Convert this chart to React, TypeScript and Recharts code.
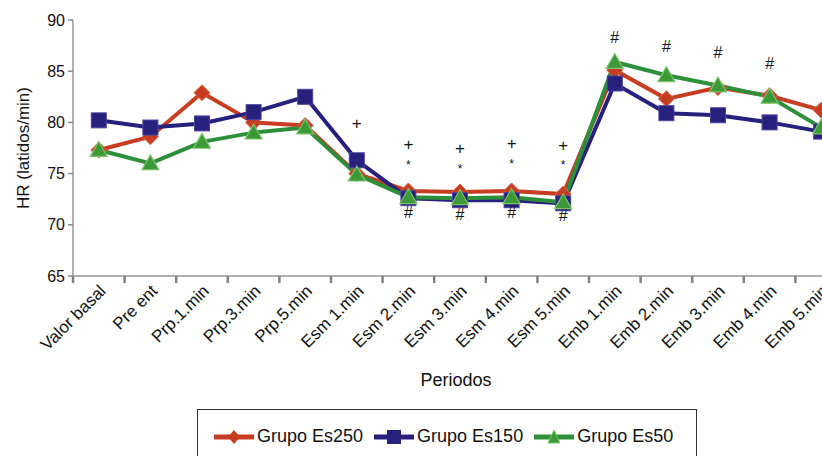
import { LineChart, Line, XAxis, YAxis } from "recharts";

const categorias = [
  "Valor basal", "Pre ent", "Prp.1.min", "Prp.3.min", "Prp.5.min",
  "Esm 1.min", "Esm 2.min", "Esm 3.min", "Esm 4.min", "Esm 5.min",
  "Emb 1.min", "Emb 2.min", "Emb 3.min", "Emb 4.min", "Emb 5.min",
];

const es250 = [77.3, 78.6, 82.9, 80.0, 79.7, 75.0, 73.3, 73.2, 73.3, 73.0, 85.1, 82.3, 83.4, 82.6, 81.2];
const es150 = [80.2, 79.5, 79.9, 81.0, 82.5, 76.3, 72.6, 72.4, 72.4, 72.1, 83.8, 80.9, 80.7, 80.0, 79.1];
const es50 = [77.3, 76.0, 78.1, 79.0, 79.5, 74.9, 72.7, 72.6, 72.7, 72.2, 85.9, 84.6, 83.6, 82.5, 79.5];

// marcas de significación (posición en el eje Y)
const marcaMas = [null, null, null, null, null, 79.9, 77.8, 77.5, 77.9, 77.7, null, null, null, null, null];
const marcaAst = [null, null, null, null, null, null, 76.0, 75.6, 76.1, 76.0, null, null, null, null, null];
const marcaAlm = [null, null, null, null, null, null, 71.2, 71.0, 71.2, 70.9, 88.3, 87.4, 86.8, 85.8, null];

const ticksY = [65, 70, 75, 80, 85, 90];

const ROJO = "#c63d22";
const AZUL = "#27207c";
const VERDE = "#2e8f3a";
const FUENTE = "'Liberation Sans', Arial, sans-serif";

const datos = categorias.map((periodo, i) => ({
  periodo,
  es250: es250[i],
  es150: es150[i],
  es50: es50[i],
  mas: marcaMas[i],
  ast: marcaAst[i],
  alm: marcaAlm[i],
}));

function Rombo(p: any) {
  const { cx, cy, index } = p;
  if (cx == null || cy == null) return <g key={`r-${index}`} />;
  const s = 8;
  return (
    <polygon key={`r-${index}`} points={`${cx},${cy - s} ${cx + s},${cy} ${cx},${cy + s} ${cx - s},${cy}`}
      fill={ROJO} stroke="#d9654d" strokeWidth={1} />
  );
}

function Cuadro(p: any) {
  const { cx, cy, index } = p;
  if (cx == null || cy == null) return <g key={`c-${index}`} />;
  const s = 7.5;
  return <rect key={`c-${index}`} x={cx - s} y={cy - s} width={2 * s} height={2 * s} fill={AZUL} stroke="#4a43a0" strokeWidth={1} />;
}

function Triangulo(p: any) {
  const { cx, cy, index } = p;
  if (cx == null || cy == null) return <g key={`t-${index}`} />;
  const s = 8.5;
  return (
    <polygon key={`t-${index}`} points={`${cx},${cy - s} ${cx + s},${cy + s * 0.75} ${cx - s},${cy + s * 0.75}`}
      fill="#3b9a37" stroke="#7cc46a" strokeWidth={1.2} />
  );
}

const marca = (simbolo: string, tam: number, dy: number) => (p: any) => {
  const { cx, cy, index, value } = p;
  if (cx == null || cy == null || value == null) return <g key={`${simbolo}-${index}`} />;
  return (
    <text key={`${simbolo}-${index}`} x={cx} y={cy + dy} textAnchor="middle" dominantBaseline="central"
      fontSize={tam} fontFamily={FUENTE} fill="#111">
      {simbolo}
    </text>
  );
};

// etiqueta girada + marca de división entre categorías
function TickPeriodo(p: any) {
  const { x, y, payload, width, visibleTicksCount } = p;
  const banda = width && visibleTicksCount ? width / visibleTicksCount : 51.6;
  const lim = x - banda / 2;
  const ax = x + 8;
  const ay = y + 16;
  return (
    <g>
      <path d={`M${lim},${y}V${y + 7}`} stroke="#808080" strokeWidth={2.5} fill="none" />
      <text x={ax} y={ay} transform={`rotate(-45 ${ax} ${ay})`} textAnchor="end"
        fontSize={17} fontFamily={FUENTE} fill="#111">
        {payload.value}
      </text>
    </g>
  );
}

function IconoLeyenda({ color, forma }: { color: string; forma: "rombo" | "cuadro" | "triangulo" }) {
  return (
    <svg width={40} height={16} style={{ display: "block" }}>
      <line x1={0} x2={40} y1={8} y2={8} stroke={color} strokeWidth={5} />
      {forma === "rombo" && <polygon points="20,1 26,8 20,15 14,8" fill={color} />}
      {forma === "cuadro" && <rect x={13} y={1} width={14} height={14} fill={color} />}
      {forma === "triangulo" && <polygon points="20,1 26,14 14,14" fill="#3b9a37" stroke="#7cc46a" />}
    </svg>
  );
}

const series = [
  { nombre: "Grupo Es250", color: ROJO, forma: "rombo" as const },
  { nombre: "Grupo Es150", color: AZUL, forma: "cuadro" as const },
  { nombre: "Grupo Es50", color: VERDE, forma: "triangulo" as const },
];

export default function App() {
  return (
    <div style={{ position: "absolute", left: 0, top: 0, width: 822, height: 456, overflow: "hidden", background: "#fff" }}>
      <LineChart width={880} height={456} data={datos} margin={{ top: 20, right: 33, left: 0, bottom: 0 }}>
        <XAxis
          dataKey="periodo"
          scale="band"
          interval={0}
          height={180}
          tickLine={false}
          tickSize={0}
          tickMargin={0}
          axisLine={{ stroke: "#b0b0b0", strokeWidth: 2 }}
          tick={<TickPeriodo />}
          label={{
            content: (p: any) => {
              const vb = p.viewBox;
              return (
                <text x={vb.x + vb.width / 2 - 4} y={vb.y + 104} textAnchor="middle" dominantBaseline="central"
                  fontSize={18} fontFamily={FUENTE} fill="#111">
                  Periodos
                </text>
              );
            },
          }}
        />
        <YAxis
          width={73}
          domain={[65, 90]}
          ticks={ticksY}
          interval={0}
          allowDataOverflow
          tickSize={5}
          tickMargin={3}
          axisLine={{ stroke: "#b0b0b0", strokeWidth: 2 }}
          tickLine={{ stroke: "#8a8a8a", strokeWidth: 1.5 }}
          tick={{ fontSize: 16, fontFamily: FUENTE, fill: "#111" }}
          label={{
            content: (p: any) => {
              const vb = p.viewBox;
              const cy = vb.y + vb.height / 2;
              return (
                <text x={23} y={cy} transform={`rotate(-90 23 ${cy})`} textAnchor="middle" dominantBaseline="central"
                  fontSize={17} fontFamily={FUENTE} fill="#111">
                  HR (latidos/min)
                </text>
              );
            },
          }}
        />
        <Line dataKey="es250" stroke={ROJO} strokeWidth={4} dot={Rombo} activeDot={false} isAnimationActive={false} />
        <Line dataKey="es150" stroke={AZUL} strokeWidth={4} dot={Cuadro} activeDot={false} isAnimationActive={false} />
        <Line dataKey="es50" stroke={VERDE} strokeWidth={4} dot={Triangulo} activeDot={false} isAnimationActive={false} />
        <Line dataKey="mas" stroke="none" dot={marca("+", 17, 0)} activeDot={false} isAnimationActive={false} />
        <Line dataKey="ast" stroke="none" dot={marca("*", 12, 2)} activeDot={false} isAnimationActive={false} />
        <Line dataKey="alm" stroke="none" dot={marca("#", 16, 0)} activeDot={false} isAnimationActive={false} />
      </LineChart>
      <div
        style={{
          position: "absolute", left: 197, top: 409, width: 500, height: 60,
          border: "1px solid #333", boxSizing: "border-box", background: "#fff",
          display: "flex", alignItems: "flex-start", justifyContent: "flex-start", paddingTop: 16, paddingLeft: 16,
          fontFamily: FUENTE, fontSize: 18, color: "#111",
        }}
      >
        {series.map((s) => (
          <div key={s.nombre} style={{ display: "flex", alignItems: "center", gap: 3, marginRight: 11 }}>
            <IconoLeyenda color={s.color} forma={s.forma} />
            <span>{s.nombre}</span>
          </div>
        ))}
      </div>
    </div>
  );
}
